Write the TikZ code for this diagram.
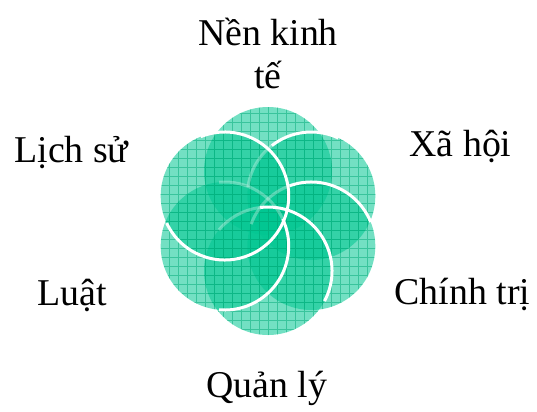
\documentclass[tikz,border=0pt]{standalone}
\usepackage{fontspec}
\setmainfont{Liberation Serif}
\definecolor{petalteal}{RGB}{0,198,145}
\definecolor{gridteal}{RGB}{0,170,120}

\begin{document}
\begin{tikzpicture}[x=1bp, y=1bp,
    petal/.style={fill=petalteal, fill opacity=0.55},
    gridline/.style={draw=gridteal, draw opacity=0.5, line width=1bp, step=9},
    rim/.style={draw=white, line width=3bp},
    rimfaint/.style={draw=white, draw opacity=0.3, line width=3bp},
    lab/.style={font=\fontsize{38}{43}\selectfont, inner sep=0pt, anchor=base}]
    \useasboundingbox (-268,-190) rectangle (269,221);
    \def\petalbody{ (0,0) circle (64)};

    % --- petals ---
    \fill[petal, shift={(90:50)}] \petalbody;
    \begin{scope} \clip[shift={(90:50)}] \petalbody; \draw[gridline] (-180,-180) grid (180,180); \end{scope}
    \fill[petal, shift={(30:50)}] \petalbody;
    \begin{scope} \clip[shift={(30:50)}] \petalbody; \draw[gridline] (-180,-180) grid (180,180); \end{scope}
    \fill[petal, shift={(-30:50)}] \petalbody;
    \begin{scope} \clip[shift={(-30:50)}] \petalbody; \draw[gridline] (-180,-180) grid (180,180); \end{scope}
    \fill[petal, shift={(-90:50)}] \petalbody;
    \begin{scope} \clip[shift={(-90:50)}] \petalbody; \draw[gridline] (-180,-180) grid (180,180); \end{scope}
    \fill[petal, shift={(-150:50)}] \petalbody;
    \begin{scope} \clip[shift={(-150:50)}] \petalbody; \draw[gridline] (-180,-180) grid (180,180); \end{scope}
    \fill[petal, shift={(150:50)}] \petalbody;
    \begin{scope} \clip[shift={(150:50)}] \petalbody; \draw[gridline] (-180,-180) grid (180,180); \end{scope}

    % --- white rims ---
    \draw[rimfaint, shift={(30:50)}] (128:64) arc[start angle=128, end angle=172, radius=64];
    \draw[rimfaint, shift={(-30:50)}] (110:64) arc[start angle=110, end angle=160, radius=64];
    \draw[rimfaint, shift={(-90:50)}] (97:64) arc[start angle=97, end angle=140, radius=64];
    \draw[rimfaint, shift={(-150:50)}] (25:64) arc[start angle=25, end angle=95, radius=64];
    \draw[rim, shift={(30:50)}] (65:64) arc[start angle=65, end angle=128, radius=64];
    \draw[rim, shift={(-30:50)}] (22:64) arc[start angle=22, end angle=110, radius=64];
    \draw[rim, shift={(-90:50)}] (-28:64) arc[start angle=-28, end angle=97, radius=64];
    \draw[rim, shift={(-150:50)}] (-95:64) arc[start angle=-95, end angle=25, radius=64];
    \draw[rim, shift={(150:50)}] (112:64) arc[start angle=112, end angle=-155, radius=64];

    % --- labels ---
    \node[lab, align=center] (eco) at (0,133) {Nền kinh\\tế};
    \node[lab] (soc) at (192.5,65) {Xã hội};
    \node[lab] (pol) at (194.5,-83) {Chính trị};
    \node[lab] (mgt) at (-1,-176) {Quản lý};
    \node[lab] (law) at (-195.5,-84) {Luật};
    \node[lab] (hist) at (-196.5,59) {Lịch sử};
\end{tikzpicture}
\end{document}
